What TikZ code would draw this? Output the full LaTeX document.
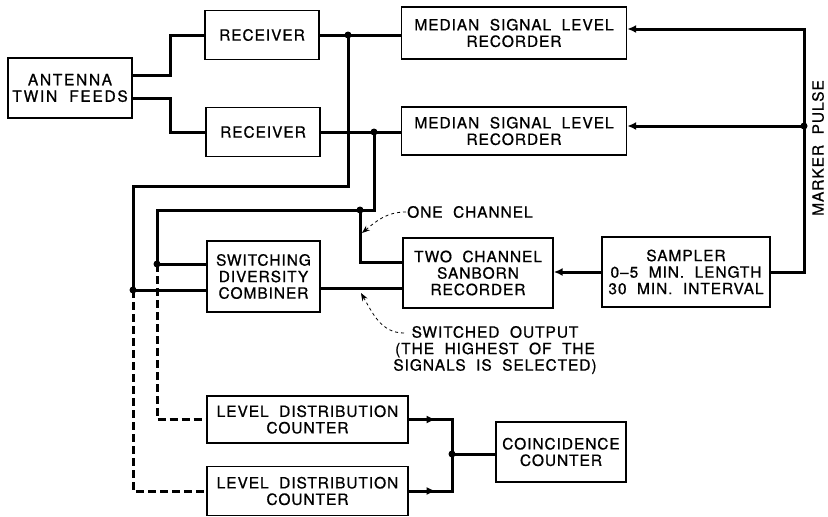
\documentclass[tikz,border=0pt]{standalone}
\usepackage{fontspec}
\setmainfont{TeX Gyre Heros}[LetterSpace=6,WordSpace=2,FakeBold=0.8]
\usetikzlibrary{arrows.meta,calc}

\newcommand\lettering{\fontsize{15.5}{16.5}\selectfont}

\begin{document}
\begin{tikzpicture}[x=1pt,y=-1pt,
    blk/.style={draw, line width=1.4pt, inner sep=1pt, align=center, font=\lettering},
    wire/.style={line width=3pt},
    arrowin/.style={-{Latex[length=9pt,width=8pt]}},
    feed/.style={line width=3pt, dash pattern=on 8pt off 4pt},
    call/.style={dashed, line width=0.8pt, -{Stealth[length=8pt,width=6pt]}},
    callout/.style={font=\lettering, inner sep=0pt, align=center}]
    \useasboundingbox (0,0) rectangle (828,517);

    % Blocks
    \node[blk, minimum width=124, minimum height=60, font=\lettering\addfontfeature{LetterSpace=11}] (ant) at (70,88) {ANTENNA\\TWIN FEEDS};
    \node[blk, minimum width=114, minimum height=49] (rxa) at (262,35) {RECEIVER};
    \node[blk, minimum width=114, minimum height=49] (rxb) at (263,132) {RECEIVER};
    \node[blk, minimum width=225, minimum height=52] (msa) at (514,33) {MEDIAN SIGNAL LEVEL\\RECORDER};
    \node[blk, minimum width=225, minimum height=48] (msb) at (514,131) {MEDIAN SIGNAL LEVEL\\RECORDER};
    \node[blk, minimum width=113, minimum height=71] (sdc) at (263.5,276.5) {SWITCHING\\DIVERSITY\\COMBINER};
    \node[blk, minimum width=150, minimum height=70] (snb) at (478,273) {TWO CHANNEL\\SANBORN\\RECORDER};
    \node[blk, minimum width=168, minimum height=70] (smp) at (686,272) {SAMPLER\\0–5 MIN. LENGTH\\30 MIN. INTERVAL};
    \node[blk, minimum width=201, minimum height=47] (ldca) at (307.5,419.5) {LEVEL DISTRIBUTION\\COUNTER};
    \node[blk, minimum width=201, minimum height=49] (ldcb) at (307.5,491) {LEVEL DISTRIBUTION\\COUNTER};
    \node[blk, minimum width=130, minimum height=60] (coin) at (561,452) {COINCIDENCE\\COUNTER};

    % Junctions
    \coordinate (ja) at (348,35);
    \coordinate (jb) at (374,132);
    \coordinate (jc) at (360,210);
    \coordinate (jd) at (157,264);
    \coordinate (je) at (133,290);
    \coordinate (jf) at (452,454);
    \coordinate (mk) at (804,29);
    \coordinate (jm) at (804,126);

    % Antenna feeds to the receivers
    \draw[wire] ([yshift=13pt]ant.east) -- ++(38,0) |- (rxa.west);
    \draw[wire] ([yshift=-10pt]ant.east) -- ++(38,0) |- (rxb.west);

    % Receiver outputs
    \draw[wire] (rxa.east) -- (rxa.east -| msa.west);
    \draw[wire] (rxb.east) -- (rxb.east -| msb.west);
    \draw[wire] (ja) -- (348,186) -- (133,186) -- (je) -- (je -| sdc.west);
    \draw[wire] (jb) -- (374,210) -- (157,210) -- (jd) -- (jd -| sdc.west);
    \draw[wire] (jc) -- (360,262) -- (360,262 -| snb.west);
    \draw[wire] ([yshift=-11.5pt]sdc.east) -- ([yshift=-11.5pt]sdc.east -| snb.west);

    % Feeds to the counters
    \draw[feed] (jd) |- (ldca.west);
    \draw[feed] (je) |- (ldcb.west);
    \draw[wire] (ldca.east) -- (ldca.east -| jf) -- (ldcb.east -| jf) -- (ldcb.east);
    \draw[wire, arrowin] (ldca.east) -- ++(27,0);
    \draw[wire, arrowin] (ldcb.east) -- ++(27,0);
    \draw[wire] (jf) -- (jf -| coin.west);

    % Sampler and marker pulse
    \draw[wire, arrowin] (smp.west) -- (smp.west -| snb.east);
    \draw[wire, arrowin] (smp.east) -- (smp.east -| mk) -- (mk) -- (mk -| msa.east);
    \draw[wire, arrowin] (jm) -- (jm -| msb.east);
    \node[font=\lettering, rotate=90] (mkp) at (818,148) {MARKER PULSE};

    % Dots
    \foreach \j in {ja,jb,jc,jd,je,jf,jm}
        \fill (\j) circle (3.5pt);

    % Callouts
    \node[callout, anchor=west] (onech) at (407,212) {ONE CHANNEL};
    \coordinate (onetip) at (362,233);
    \draw[call] ([xshift=-1pt]onech.west) to[out=180,in=40] (onetip);
    \node[callout] (swout) at (495,350) {SWITCHED OUTPUT\\(THE HIGHEST OF THE\\SIGNALS IS SELECTED)};
    \coordinate (swtail) at (404,333);
    \coordinate (swtip) at (361,293);
    \draw[call] (swtail) to[out=180,in=-60] (swtip);
\end{tikzpicture}
\end{document}
